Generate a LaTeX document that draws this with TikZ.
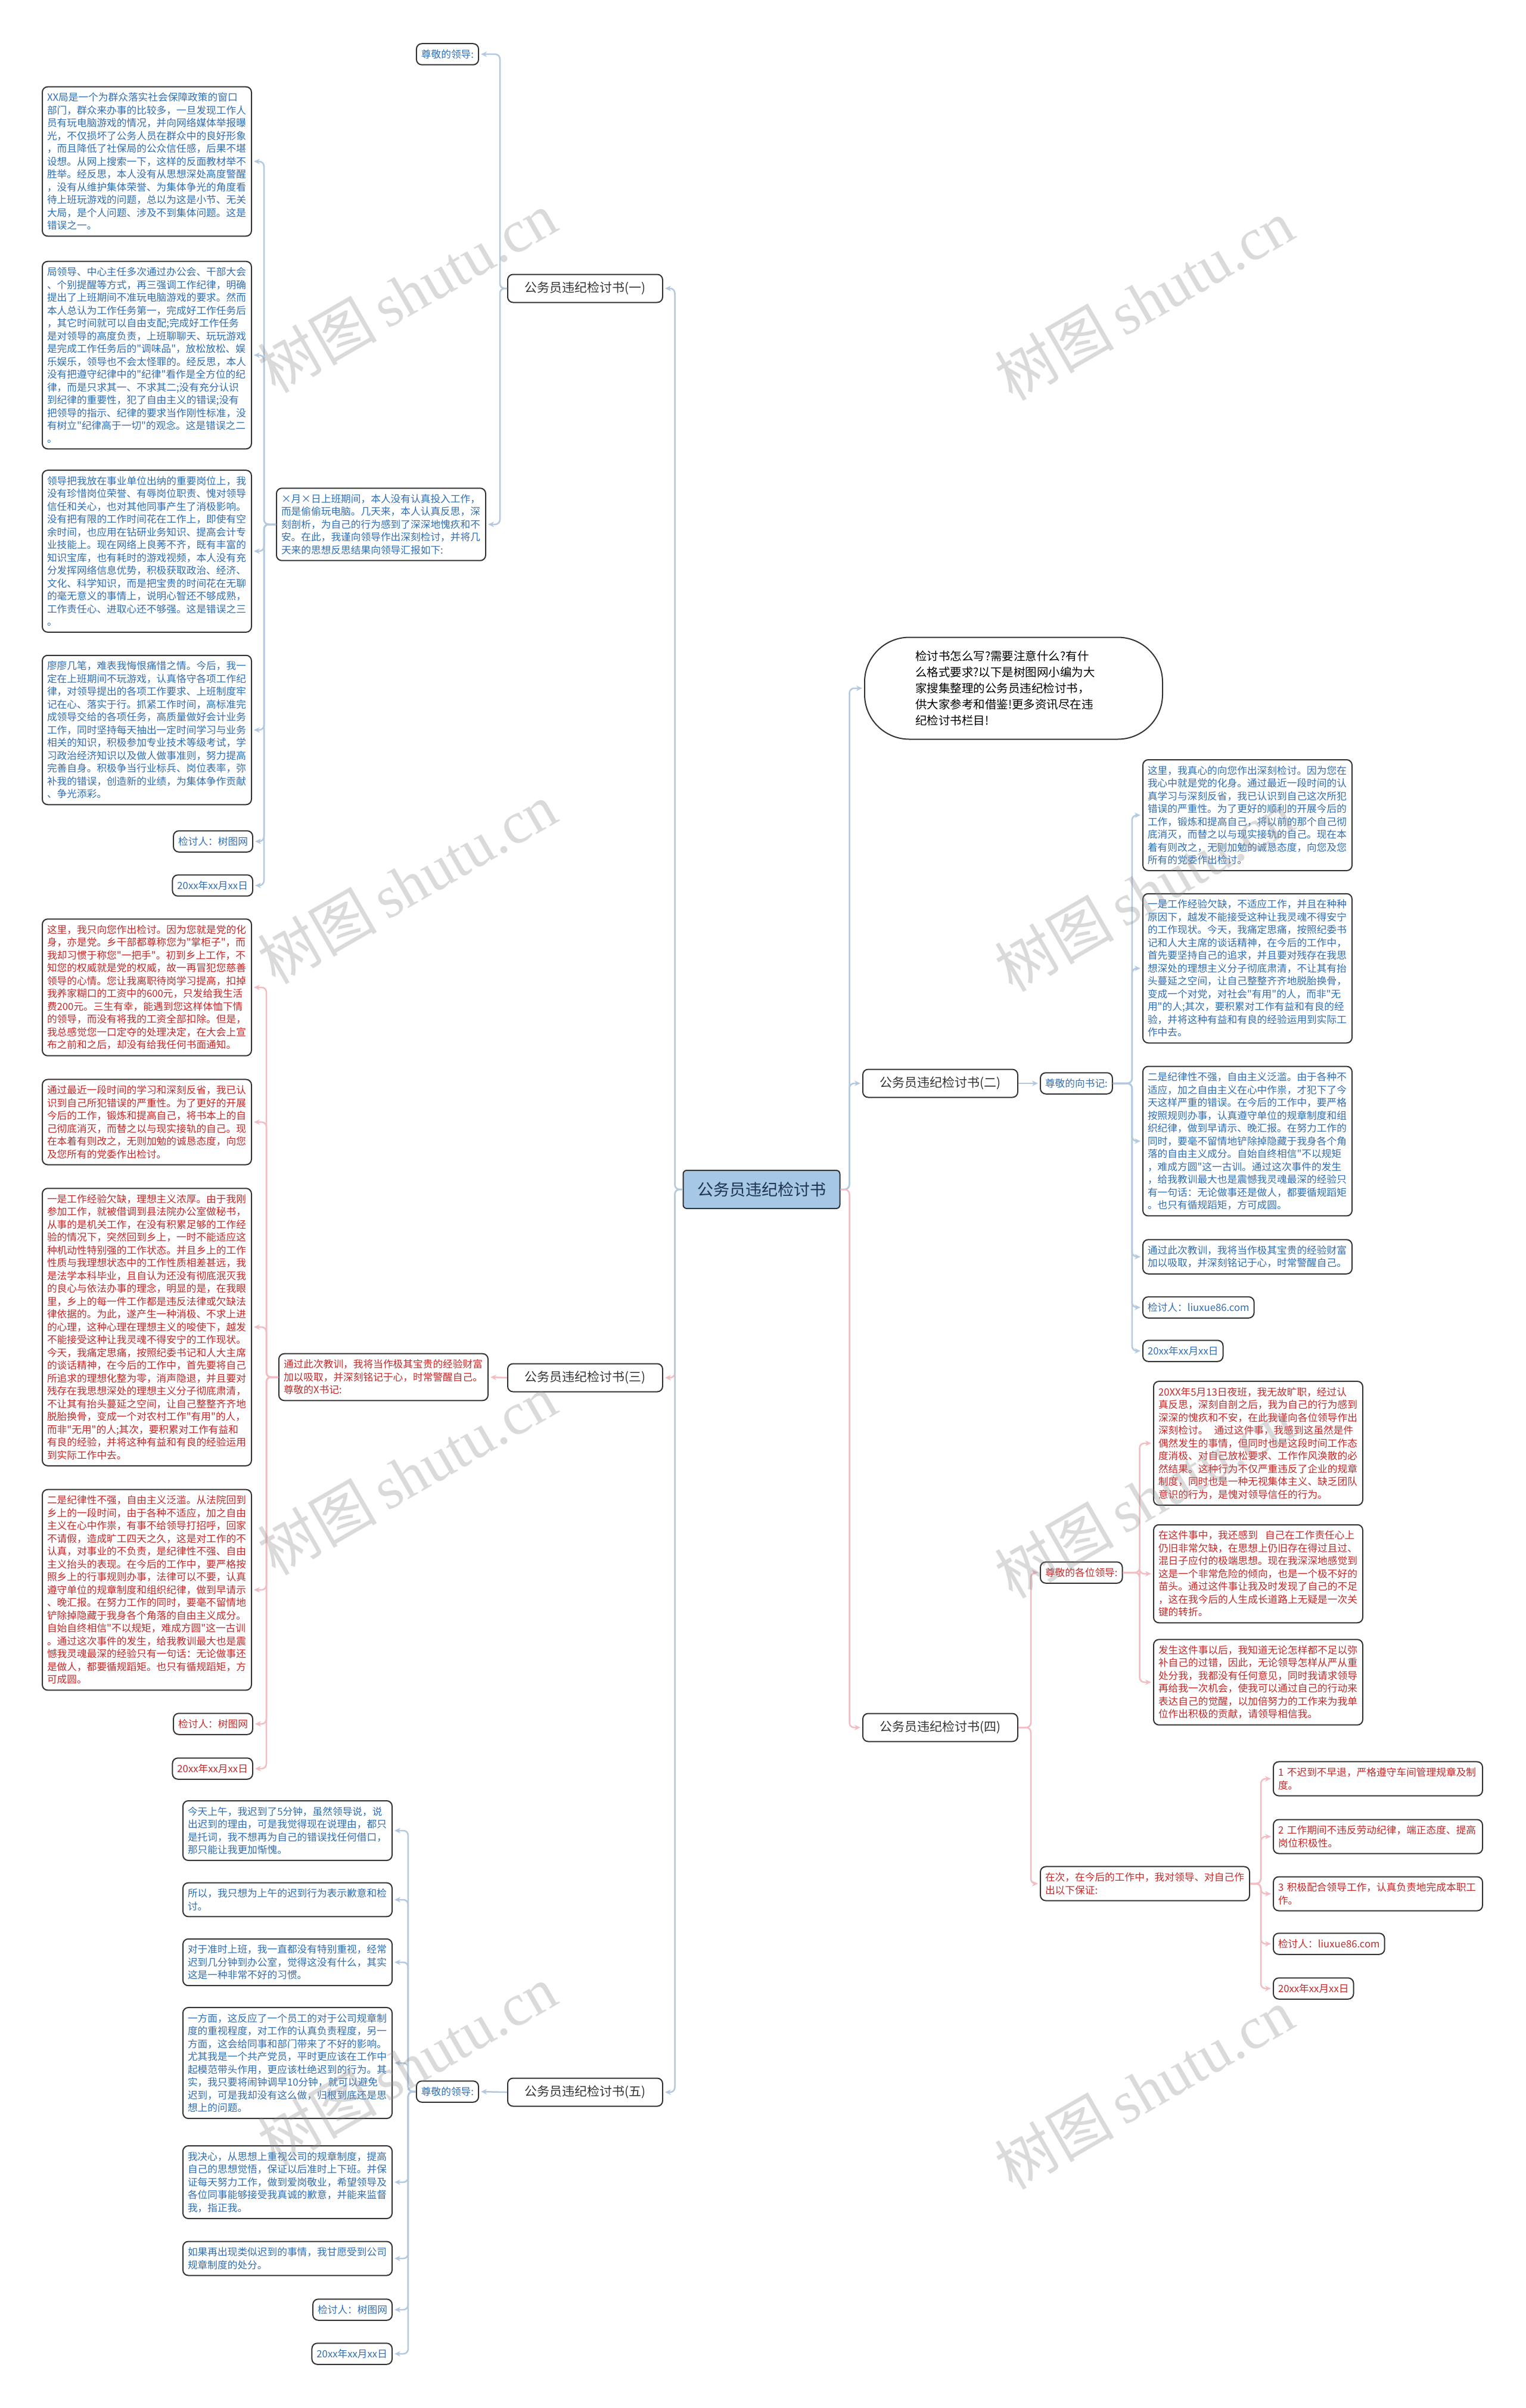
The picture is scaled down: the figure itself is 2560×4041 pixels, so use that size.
\documentclass[tikz,border=0pt]{standalone}
\usepackage{fontspec}
\newfontfamily\cjk{Noto Sans CJK SC}
\newfontfamily\wmserif{Liberation Serif}
\usetikzlibrary{arrows.meta}
\definecolor{tblue}{HTML}{2F6DB5}
\definecolor{tred}{HTML}{C62828}
\definecolor{lblue}{HTML}{B3C9E0}
\definecolor{lred}{HTML}{F2BCC1}
\definecolor{bord}{HTML}{333333}
\definecolor{mainfill}{HTML}{A7C7E7}
\definecolor{maintext}{HTML}{1E3350}
\tikzset{
  box/.style={draw=bord, line width=2pt, rounded corners=9pt, fill=white, inner xsep=8pt, inner ysep=10pt, font=\cjk\fontsize{16.7}{21.5}\selectfont},
  big/.style={box, text width=335pt, align=left},
  bt/.style={text=tblue},
  rt/.style={text=tred},
  lvl/.style={draw=bord, line width=2pt, rounded corners=9pt, fill=white, text=bord, font=\cjk\fontsize{21}{25}\selectfont, minimum width=260pt, minimum height=47pt},
  bconn/.style={draw=lblue, line width=2.5pt, rounded corners=8pt, shorten >=3pt, -{Stealth[length=10pt,width=9pt]}},
  rconn/.style={draw=lred, line width=2.5pt, rounded corners=8pt, shorten >=3pt, -{Stealth[length=10pt,width=9pt]}},
  wm/.style={text=black!45, opacity=0.32, rotate=30, font=\cjk\fontsize{100}{100}\selectfont}
}
\begin{document}
\begin{tikzpicture}[x=1pt,y=-1pt]
\useasboundingbox (0,0) rectangle (2560,4041);
\fill[white] (0,0) rectangle (2560,4041);

% main and level 1
\node[draw=bord, line width=2pt, rounded corners=6pt, fill=mainfill, text=maintext, font=\cjk\fontsize{27}{32}\selectfont, minimum width=263pt, minimum height=64pt] (main) at (1278,1996) {公务员违纪检讨书};
\node[lvl] (n1) at (982,484) {公务员违纪检讨书(一)};
\node[lvl] (n2) at (1578,1818) {公务员违纪检讨书(二)};
\node[lvl] (n3) at (982,2312) {公务员违纪检讨书(三)};
\node[lvl] (n4) at (1578,2899) {公务员违纪检讨书(四)};
\node[lvl] (n5) at (982,3511) {公务员违纪检讨书(五)};
\node[draw=bord, line width=2pt, rounded corners=75pt, fill=white, minimum width=500pt, minimum height=171pt, text width=330pt, align=left, font=\cjk\fontsize{19.5}{27}\selectfont] (bub) at (1701,1155) {检讨书怎么写?需要注意什么?有什\\么格式要求?以下是树图网小编为大\\家搜集整理的公务员违纪检讨书，\\供大家参考和借鉴!更多资讯尽在违\\纪检讨书栏目!};

% branch one
\node[box,bt] (l1) at (751,91) {尊敬的领导:};
\node[big,bt,anchor=east] (m1) at (816,880) {×月×日上班期间，本人没有认真投入工作，\\而是偷偷玩电脑。几天来，本人认真反思，深\\刻剖析，为自己的行为感到了深深地愧疚和不\\安。在此，我谨向领导作出深刻检讨，并将几\\天来的思想反思结果向领导汇报如下:};
\node[big,bt,anchor=east] (b1) at (423,271) {XX局是一个为群众落实社会保障政策的窗口\\部门，群众来办事的比较多，一旦发现工作人\\员有玩电脑游戏的情况，并向网络媒体举报曝\\光，不仅损坏了公务人员在群众中的良好形象\\，而且降低了社保局的公众信任感，后果不堪\\设想。从网上搜索一下，这样的反面教材举不\\胜举。经反思，本人没有从思想深处高度警醒\\，没有从维护集体荣誉、为集体争光的角度看\\待上班玩游戏的问题，总以为这是小节、无关\\大局，是个人问题、涉及不到集体问题。这是\\错误之一。};
\node[big,bt,anchor=east] (b2) at (423,596) {局领导、中心主任多次通过办公会、干部大会\\、个别提醒等方式，再三强调工作纪律，明确\\提出了上班期间不准玩电脑游戏的要求。然而\\本人总认为工作任务第一，完成好工作任务后\\，其它时间就可以自由支配;完成好工作任务\\是对领导的高度负责，上班聊聊天、玩玩游戏\\是完成工作任务后的"调味品"，放松放松、娱\\乐娱乐，领导也不会太怪罪的。经反思，本人\\没有把遵守纪律中的"纪律"看作是全方位的纪\\律，而是只求其一、不求其二;没有充分认识\\到纪律的重要性，犯了自由主义的错误;没有\\把领导的指示、纪律的要求当作刚性标准，没\\有树立"纪律高于一切"的观念。这是错误之二\\。};
\node[big,bt,anchor=east] (b3) at (423,925) {领导把我放在事业单位出纳的重要岗位上，我\\没有珍惜岗位荣誉、有辱岗位职责、愧对领导\\信任和关心，也对其他同事产生了消极影响。\\没有把有限的工作时间花在工作上，即使有空\\余时间，也应用在钻研业务知识、提高会计专\\业技能上。现在网络上良莠不齐，既有丰富的\\知识宝库，也有耗时的游戏视频，本人没有充\\分发挥网络信息优势，积极获取政治、经济、\\文化、科学知识，而是把宝贵的时间花在无聊\\的毫无意义的事情上，说明心智还不够成熟，\\工作责任心、进取心还不够强。这是错误之三\\。};
\node[big,bt,anchor=east] (b4) at (423,1225) {廖廖几笔，难表我悔恨痛惜之情。今后，我一\\定在上班期间不玩游戏，认真恪守各项工作纪\\律，对领导提出的各项工作要求、上班制度牢\\记在心、落实于行。抓紧工作时间，高标准完\\成领导交给的各项任务，高质量做好会计业务\\工作，同时坚持每天抽出一定时间学习与业务\\相关的知识，积极参加专业技术等级考试，学\\习政治经济知识以及做人做事准则，努力提高\\完善自身。积极争当行业标兵、岗位表率，弥\\补我的错误，创造新的业绩，为集体争作贡献\\、争光添彩。};
\node[box,bt,anchor=east] (k1) at (425,1412) {检讨人：树图网};
\node[box,bt,anchor=east] (d1) at (425,1486) {20xx年xx月xx日};

% branch three
\node[big,rt,anchor=east] (m3) at (820,2311) {通过此次教训，我将当作极其宝贵的经验财富\\加以吸取，并深刻铭记于心，时常警醒自己。\\尊敬的X书记:};
\node[big,rt,anchor=east] (b5) at (423,1657) {这里，我只向您作出检讨。因为您就是党的化\\身，亦是党。乡干部都尊称您为"掌柜子"，而\\我却习惯于称您"一把手"。初到乡上工作，不\\知您的权威就是党的权威，故一再冒犯您慈善\\领导的心情。您让我离职待岗学习提高，扣掉\\我养家糊口的工资中的600元，只发给我生活\\费200元。三生有幸，能遇到您这样体恤下情\\的领导，而没有将我的工资全部扣除。但是，\\我总感觉您一口定夺的处理决定，在大会上宣\\布之前和之后，却没有给我任何书面通知。};
\node[big,rt,anchor=east] (b6) at (423,1883) {通过最近一段时间的学习和深刻反省，我已认\\识到自己所犯错误的严重性。为了更好的开展\\今后的工作，锻炼和提高自己，将书本上的自\\己彻底消灭，而替之以与现实接轨的自己。现\\在本着有则改之，无则加勉的诚恳态度，向您\\及您所有的党委作出检讨。};
\node[big,rt,anchor=east] (b7) at (423,2227) {一是工作经验欠缺，理想主义浓厚。由于我刚\\参加工作，就被借调到县法院办公室做秘书，\\从事的是机关工作，在没有积累足够的工作经\\验的情况下，突然回到乡上，一时不能适应这\\种机动性特别强的工作状态。并且乡上的工作\\性质与我理想状态中的工作性质相差甚远，我\\是法学本科毕业，且自认为还没有彻底泯灭我\\的良心与依法办事的理念，明显的是，在我眼\\里，乡上的每一件工作都是违反法律或欠缺法\\律依据的。为此，遂产生一种消极、不求上进\\的心理，这种心理在理想主义的唆使下，越发\\不能接受这种让我灵魂不得安宁的工作现状。\\今天，我痛定思痛，按照纪委书记和人大主席\\的谈话精神，在今后的工作中，首先要将自己\\所追求的理想化整为零，消声隐退，并且要对\\残存在我思想深处的理想主义分子彻底肃清，\\不让其有抬头蔓延之空间，让自己整整齐齐地\\脱胎换骨，变成一个对农村工作"有用"的人，\\而非"无用"的人;其次，要积累对工作有益和\\有良的经验，并将这种有益和有良的经验运用\\到实际工作中去。};
\node[big,rt,anchor=east] (b8) at (423,2668) {二是纪律性不强，自由主义泛滥。从法院回到\\乡上的一段时间，由于各种不适应，加之自由\\主义在心中作祟，有事不给领导打招呼，回家\\不请假，造成旷工四天之久，这是对工作的不\\认真，对事业的不负责，是纪律性不强、自由\\主义抬头的表现。在今后的工作中，要严格按\\照乡上的行事规则办事，法律可以不要，认真\\遵守单位的规章制度和组织纪律，做到早请示\\、晚汇报。在努力工作的同时，要毫不留情地\\铲除掉隐藏于我身各个角落的自由主义成分。\\自始自终相信"不以规矩，难成方圆"这一古训\\。通过这次事件的发生，给我教训最大也是震\\憾我灵魂最深的经验只有一句话：无论做事还\\是做人，都要循规蹈矩。也只有循规蹈矩，方\\可成圆。};
\node[box,rt,anchor=east] (k3) at (425,2893) {检讨人：树图网};
\node[box,rt,anchor=east] (d3) at (425,2968) {20xx年xx月xx日};

% branch five
\node[box,bt] (l5) at (751,3510) {尊敬的领导:};
\node[big,bt,anchor=east] (c1) at (659,3072) {今天上午，我迟到了5分钟，虽然领导说，说\\出迟到的理由，可是我觉得现在说理由，都只\\是托词，我不想再为自己的错误找任何借口，\\那只能让我更加惭愧。};
\node[big,bt,anchor=east] (c2) at (659,3188) {所以，我只想为上午的迟到行为表示歉意和检\\讨。};
\node[big,bt,anchor=east] (c3) at (659,3293) {对于准时上班，我一直都没有特别重视，经常\\迟到几分钟到办公室，觉得这没有什么，其实\\这是一种非常不好的习惯。};
\node[big,bt,anchor=east] (c4) at (659,3462) {一方面，这反应了一个员工的对于公司规章制\\度的重视程度，对工作的认真负责程度，另一\\方面，这会给同事和部门带来了不好的影响。\\尤其我是一个共产党员，平时更应该在工作中\\起模范带头作用，更应该杜绝迟到的行为。其\\实，我只要将闹钟调早10分钟，就可以避免\\迟到，可是我却没有这么做，归根到底还是思\\想上的问题。};
\node[big,bt,anchor=east] (c5) at (659,3662) {我决心，从思想上重视公司的规章制度，提高\\自己的思想觉悟，保证以后准时上下班。并保\\证每天努力工作，做到爱岗敬业，希望领导及\\各位同事能够接受我真诚的歉意，并能来监督\\我，指正我。};
\node[big,bt,anchor=east] (c6) at (659,3790) {如果再出现类似迟到的事情，我甘愿受到公司\\规章制度的处分。};
\node[box,bt,anchor=east] (k5) at (659,3876) {检讨人：树图网};
\node[box,bt,anchor=east] (d5) at (659,3950) {20xx年xx月xx日};

% branch two
\node[box,bt,anchor=west] (l2) at (1745,1818) {尊敬的向书记:};
\node[big,bt,anchor=west] (r1) at (1917,1368) {这里，我真心的向您作出深刻检讨。因为您在\\我心中就是党的化身。通过最近一段时间的认\\真学习与深刻反省，我已认识到自己这次所犯\\错误的严重性。为了更好的顺利的开展今后的\\工作，锻炼和提高自己，将以前的那个自己彻\\底消灭，而替之以与现实接轨的自己。现在本\\着有则改之，无则加勉的诚恳态度，向您及您\\所有的党委作出检讨。};
\node[big,bt,anchor=west] (r2) at (1917,1625) {一是工作经验欠缺，不适应工作，并且在种种\\原因下，越发不能接受这种让我灵魂不得安宁\\的工作现状。今天，我痛定思痛，按照纪委书\\记和人大主席的谈话精神，在今后的工作中，\\首先要坚持自己的追求，并且要对残存在我思\\想深处的理想主义分子彻底肃清，不让其有抬\\头蔓延之空间，让自己整整齐齐地脱胎换骨，\\变成一个对党，对社会"有用"的人，而非"无\\用"的人;其次，要积累对工作有益和有良的经\\验，并将这种有益和有良的经验运用到实际工\\作中去。};
\node[big,bt,anchor=west] (r3) at (1917,1915) {二是纪律性不强，自由主义泛滥。由于各种不\\适应，加之自由主义在心中作祟，才犯下了今\\天这样严重的错误。在今后的工作中，要严格\\按照规则办事，认真遵守单位的规章制度和组\\织纪律，做到早请示、晚汇报。在努力工作的\\同时，要毫不留情地铲除掉隐藏于我身各个角\\落的自由主义成分。自始自终相信"不以规矩\\，难成方圆"这一古训。通过这次事件的发生\\，给我教训最大也是震憾我灵魂最深的经验只\\有一句话：无论做事还是做人，都要循规蹈矩\\。也只有循规蹈矩，方可成圆。};
\node[big,bt,anchor=west] (r4) at (1917,2109) {通过此次教训，我将当作极其宝贵的经验财富\\加以吸取，并深刻铭记于心，时常警醒自己。};
\node[box,bt,anchor=west] (k2) at (1917,2194) {检讨人：liuxue86.com};
\node[box,bt,anchor=west] (d2) at (1917,2267) {20xx年xx月xx日};

% branch four
\node[box,rt,anchor=west] (l4a) at (1745,2639) {尊敬的各位领导:};
\node[big,rt,anchor=west] (l4b) at (1745,3161) {在次，在今后的工作中，我对领导、对自己作\\出以下保证:};
\node[big,rt,anchor=west] (r5) at (1935,2422) {20XX年5月13日夜班，我无故旷职，经过认\\真反思，深刻自剖之后，我为自己的行为感到\\深深的愧疚和不安，在此我谨向各位领导作出\\深刻检讨。\hspace{10pt}通过这件事，我感到这虽然是件\\偶然发生的事情，但同时也是这段时间工作态\\度消极、对自己放松要求、工作作风涣散的必\\然结果。这种行为不仅严重违反了企业的规章\\制度，同时也是一种无视集体主义、缺乏团队\\意识的行为，是愧对领导信任的行为。};
\node[big,rt,anchor=west] (r6) at (1935,2641) {在这件事中，我还感到\hspace{12pt}自己在工作责任心上\\仍旧非常欠缺，在思想上仍旧存在得过且过、\\混日子应付的极端思想。现在我深深地感觉到\\这是一个非常危险的倾向，也是一个极不好的\\苗头。通过这件事让我及时发现了自己的不足\\，这在我今后的人生成长道路上无疑是一次关\\键的转折。};
\node[big,rt,anchor=west] (r7) at (1935,2823) {发生这件事以后，我知道无论怎样都不足以弥\\补自己的过错，因此，无论领导怎样从严从重\\处分我，我都没有任何意见，同时我请求领导\\再给我一次机会，使我可以通过自己的行动来\\表达自己的觉醒，以加倍努力的工作来为我单\\位作出积极的贡献，请领导相信我。};
\node[big,rt,anchor=west] (i1) at (2136,2985) {1 不迟到不早退，严格遵守车间管理规章及制\\度。};
\node[big,rt,anchor=west] (i2) at (2136,3082) {2 工作期间不违反劳动纪律，端正态度、提高\\岗位积极性。};
\node[big,rt,anchor=west] (i3) at (2136,3178) {3 积极配合领导工作，认真负责地完成本职工\\作。};
\node[box,rt,anchor=west] (k4) at (2136,3262) {检讨人：liuxue86.com};
\node[box,rt,anchor=west] (d4) at (2136,3337) {20xx年xx月xx日};

% connectors from main
\draw[bconn] (main.west) -- ++(-13,0) |- (n1.east);
\draw[rconn] (main.west) -- ++(-13,0) |- (n3.east);
\draw[bconn] (main.west) -- ++(-13,0) |- (n5.east);
\draw[bconn] (main.east) -- ++(15,0) |- (bub.west);
\draw[bconn] (main.east) -- ++(15,0) |- (n2.west);
\draw[rconn] (main.east) -- ++(15,0) |- (n4.west);

% branch one connectors
\draw[bconn] (n1.west) -- ++(-12,0) |- (l1.east);
\draw[bconn] (n1.west) -- ++(-12,0) |- (m1.east);
\foreach \t in {b1,b2,b3,b4,k1,d1}
  \draw[bconn] (m1.west) -- ++(-20,0) |- (\t.east);

% branch three connectors
\draw[rconn] (n3.west) -- (m3.east);
\foreach \t in {b5,b6,b7,b8,k3,d3}
  \draw[rconn] (m3.west) -- ++(-20,0) |- (\t.east);

% branch five connectors
\draw[bconn] (n5.west) -- (l5.east);
\foreach \t in {c1,c2,c3,c4,c5,c6,k5,d5}
  \draw[bconn] (l5.west) -- ++(-13,0) |- (\t.east);

% branch two connectors
\draw[bconn] (n2.east) -- (l2.west);
\foreach \t in {r1,r2,r3,r4,k2,d2}
  \draw[bconn] (l2.east) -- ++(32,0) |- (\t.west);

% branch four connectors
\draw[rconn] (n4.east) -- ++(21,0) |- (l4a.west);
\draw[rconn] (n4.east) -- ++(21,0) |- (l4b.west);
\foreach \t in {r5,r6,r7}
  \draw[rconn] (l4a.east) -- ++(28,0) |- (\t.west);
\foreach \t in {i1,i2,i3,k4,d4}
  \draw[rconn] (l4b.east) -- ++(18,0) |- (\t.west);

% watermarks
\foreach \px/\py [count=\i] in {683/490, 683/1482, 683/2474, 683/3466, 1920/503, 1920/1495, 1920/2513, 1920/3505}
  \node[wm] (wm\i) at (\px,\py) {树图\,{\wmserif shutu.cn}};
\end{tikzpicture}
\end{document}
